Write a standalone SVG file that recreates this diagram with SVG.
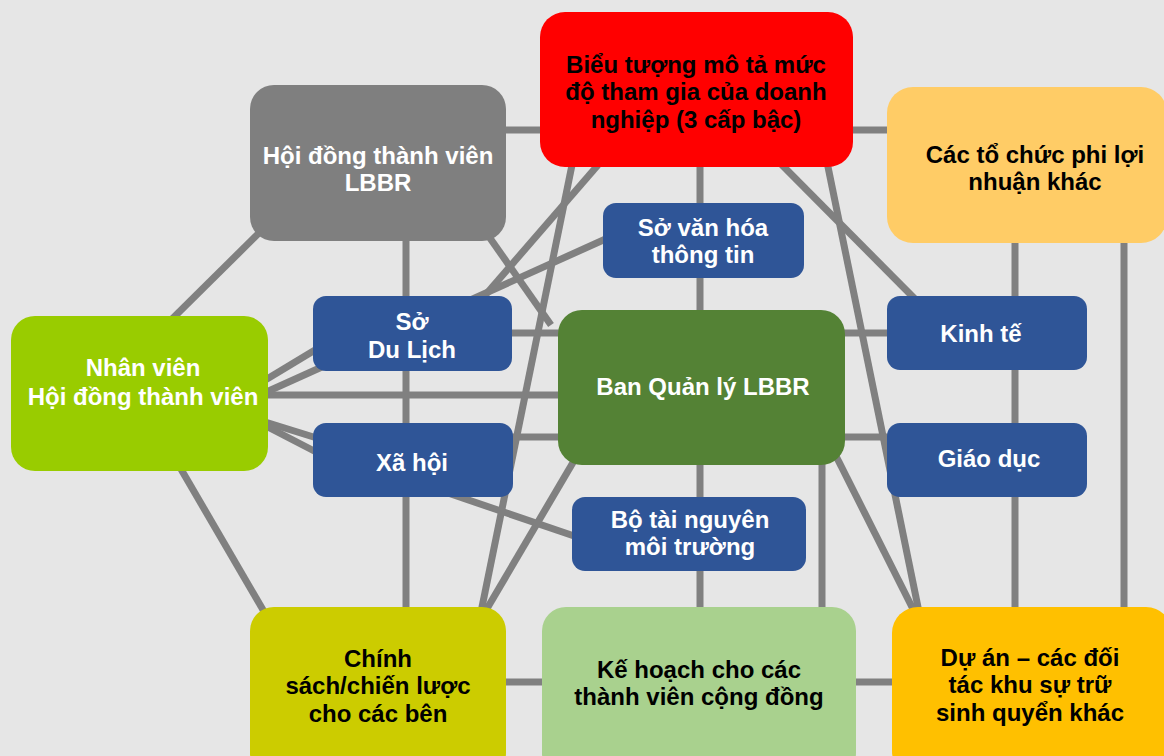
<svg xmlns="http://www.w3.org/2000/svg" width="1164" height="756" viewBox="0 0 1164 756">
<style>
.c{stroke:#808080;stroke-width:7;fill:none;stroke-linecap:butt}
.t{font-family:"Liberation Sans",Arial,sans-serif;font-weight:bold;font-size:24px;text-anchor:middle}
.w{fill:#ffffff}
.k{fill:#000000}
.blue{fill:#2F5597}
</style>
<rect x="0" y="0" width="1164" height="756" fill="#E6E6E6"/>
<g id="connectors">
<line class="c" x1="500" y1="130" x2="545" y2="130"/>
<line class="c" x1="848" y1="130" x2="892" y2="130"/>
<line class="c" x1="406" y1="235" x2="406" y2="612"/>
<line class="c" x1="266" y1="226" x2="167" y2="324"/>
<line class="c" x1="485" y1="231" x2="551" y2="325"/>
<line class="c" x1="598" y1="165" x2="481" y2="300"/>
<line class="c" x1="262" y1="394" x2="610" y2="237"/>
<line class="c" x1="262" y1="382" x2="320" y2="347"/>
<line class="c" x1="262" y1="395" x2="565" y2="395"/>
<line class="c" x1="505" y1="333" x2="565" y2="333"/>
<line class="c" x1="505" y1="437" x2="565" y2="437"/>
<line class="c" x1="262" y1="421" x2="320" y2="439"/>
<line class="c" x1="262" y1="424" x2="320" y2="454"/>
<line class="c" x1="445" y1="492" x2="580" y2="538"/>
<line class="c" x1="572" y1="165" x2="481" y2="612"/>
<line class="c" x1="700" y1="160" x2="700" y2="612"/>
<line class="c" x1="780" y1="163" x2="918" y2="302"/>
<line class="c" x1="827" y1="162" x2="919" y2="612"/>
<line class="c" x1="840" y1="333" x2="892" y2="333"/>
<line class="c" x1="840" y1="437" x2="892" y2="437"/>
<line class="c" x1="834" y1="452" x2="915" y2="613"/>
<line class="c" x1="822" y1="460" x2="822" y2="612"/>
<line class="c" x1="1015" y1="237" x2="1015" y2="612"/>
<line class="c" x1="1124" y1="237" x2="1124" y2="612"/>
<line class="c" x1="578" y1="454" x2="485" y2="612"/>
<line class="c" x1="500" y1="682" x2="548" y2="682"/>
<line class="c" x1="850" y1="682" x2="897" y2="682"/>
<line class="c" x1="178" y1="464" x2="266" y2="615"/>
</g>
<g id="bieu-tuong">
<rect x="540" y="12" width="313" height="155" rx="25" fill="#FF0000"/>
<text class="t k" x="696" y="73">Biểu tượng mô tả mức</text>
<text class="t k" x="696" y="100">độ tham gia của doanh</text>
<text class="t k" x="696" y="128">nghiệp (3 cấp bậc)</text>
</g>
<g id="hoi-dong">
<rect x="250" y="85" width="256" height="156" rx="24" fill="#7F7F7F"/>
<text class="t w" x="378" y="164">Hội đồng thành viên</text>
<text class="t w" x="378" y="191">LBBR</text>
</g>
<g id="phi-loi-nhuan">
<rect x="887" y="87" width="280" height="156" rx="26" fill="#FFCC66"/>
<text class="t k" x="1035" y="163">Các tổ chức phi lợi</text>
<text class="t k" x="1035" y="190">nhuận khác</text>
</g>
<g id="nhan-vien">
<rect x="11" y="316" width="257" height="155" rx="24" fill="#99CC00"/>
<text class="t w" x="143" y="376">Nhân viên</text>
<text class="t w" x="143" y="405">Hội đồng thành viên</text>
</g>
<g id="so-du-lich">
<rect class="blue" x="313" y="296" width="199" height="75" rx="13"/>
<text class="t w" x="412" y="330">Sở</text>
<text class="t w" x="412" y="358">Du Lịch</text>
</g>
<g id="so-van-hoa">
<rect class="blue" x="603" y="203" width="201" height="75" rx="13"/>
<text class="t w" x="703" y="236">Sở văn hóa</text>
<text class="t w" x="703" y="263">thông tin</text>
</g>
<g id="ban-quan-ly">
<rect x="558" y="310" width="287" height="155" rx="24" fill="#548235"/>
<text class="t w" x="703" y="395">Ban Quản lý LBBR</text>
</g>
<g id="kinh-te">
<rect class="blue" x="887" y="296" width="200" height="74" rx="13"/>
<text class="t w" x="981" y="342">Kinh tế</text>
</g>
<g id="xa-hoi">
<rect class="blue" x="313" y="423" width="200" height="74" rx="13"/>
<text class="t w" x="412" y="471">Xã hội</text>
</g>
<g id="giao-duc">
<rect class="blue" x="887" y="423" width="200" height="74" rx="13"/>
<text class="t w" x="989" y="467">Giáo dục</text>
</g>
<g id="bo-tai-nguyen">
<rect class="blue" x="572" y="497" width="234" height="74" rx="13"/>
<text class="t w" x="690" y="528">Bộ tài nguyên</text>
<text class="t w" x="690" y="555">môi trường</text>
</g>
<g id="chinh-sach">
<rect x="250" y="607" width="256" height="170" rx="24" fill="#CCCC00"/>
<text class="t k" x="378" y="667">Chính</text>
<text class="t k" x="378" y="694">sách/chiến lược</text>
<text class="t k" x="378" y="722">cho các bên</text>
</g>
<g id="ke-hoach">
<rect x="542" y="607" width="314" height="170" rx="24" fill="#A9D18E"/>
<text class="t k" x="699" y="678">Kế hoạch cho các</text>
<text class="t k" x="699" y="705">thành viên cộng đồng</text>
</g>
<g id="du-an">
<rect x="892" y="607" width="280" height="170" rx="26" fill="#FFC000"/>
<text class="t k" x="1030" y="666">Dự án – các đối</text>
<text class="t k" x="1030" y="693">tác khu sự trữ</text>
<text class="t k" x="1030" y="721">sinh quyển khác</text>
</g>
</svg>
